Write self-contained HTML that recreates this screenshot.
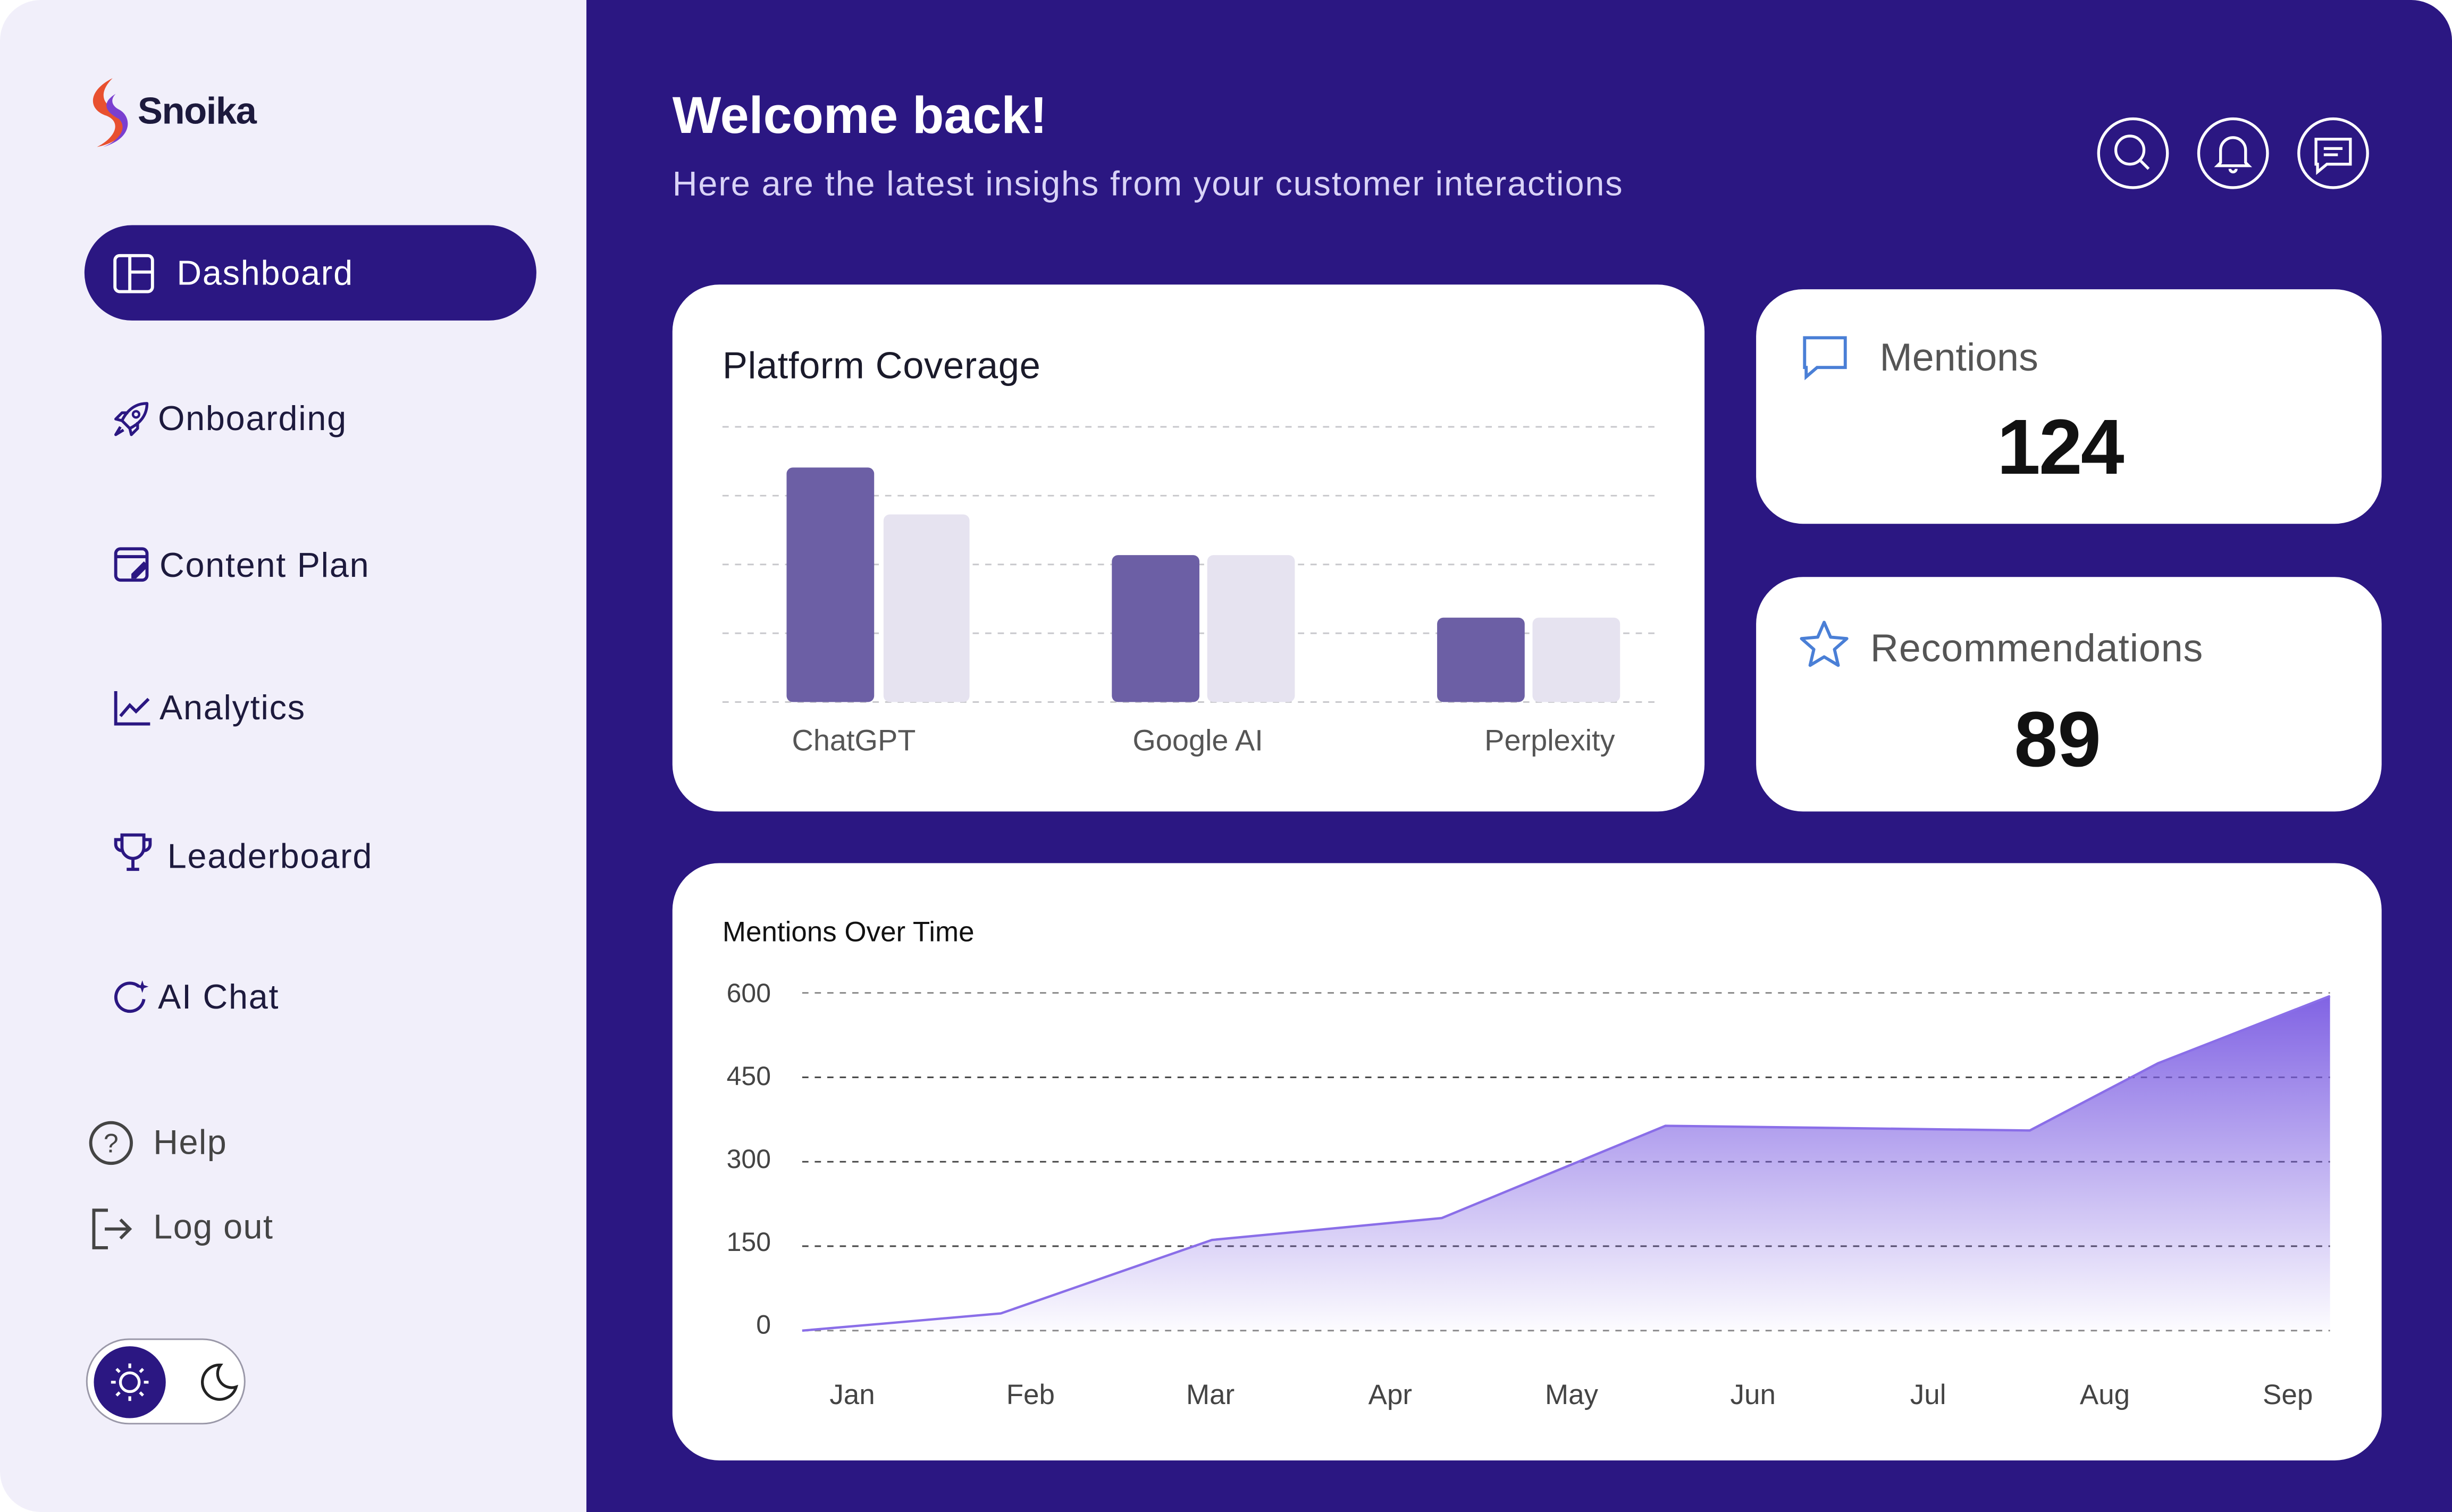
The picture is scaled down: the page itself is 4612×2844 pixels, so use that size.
<!DOCTYPE html>
<html><head><meta charset="utf-8"><style>
html,body{margin:0;padding:0;background:#fff;}
body{width:4612px;height:2844px;overflow:hidden;}
#s{width:1568px;height:967px;transform:scale(2.94133,2.94105);transform-origin:0 0;position:relative;font-family:"Liberation Sans",sans-serif;}
.side{position:absolute;left:0;top:0;width:376px;height:967px;background:#f1effa;border-radius:26px 0 0 26px;}
.main{position:absolute;left:375px;top:0;width:1193px;height:967px;background:#2b1782;border-radius:0 26px 0 0;}
.t{position:absolute;white-space:nowrap;}
.menu{font-size:22px;color:#1d1a3d;letter-spacing:0.6px;}
.card{position:absolute;background:#fff;border-radius:30px;}
</style></head><body><div id="s">
<div class="side"></div>
<div class="main"></div>
<svg class="t" style="left:52px;top:48px" width="36" height="50" viewBox="0 0 36 50"><path d="M20 2 C4 10 4 22 16 26 C26 30 22 40 10 46 C30 42 34 28 22 22 C12 18 12 10 20 2Z" fill="#e8502f"/><path d="M22 12 C12 18 16 24 24 28 C30 34 24 42 14 46 C34 40 32 26 24 22 C20 20 18 16 22 12Z" fill="#7a3fd0"/></svg>
<div class="t" style="left:88px;top:58px;font-size:24px;font-weight:bold;color:#1d1a3d;letter-spacing:-0.5px">Snoika</div>
<div style="position:absolute;left:54px;top:144px;width:289px;height:61px;background:#2b1782;border-radius:31px"></div>
<svg class="t" style="left:72px;top:162px" width="27" height="26"><rect x="1.5" y="1.5" width="24" height="23" rx="3" fill="none" stroke="#fff" stroke-width="2"/><line x1="11" y1="2" x2="11" y2="24" stroke="#fff" stroke-width="2"/><line x1="11" y1="12" x2="25" y2="12" stroke="#fff" stroke-width="2"/></svg>
<div class="t" style="left:113px;top:162px;font-size:22px;color:#fff;letter-spacing:0.6px">Dashboard</div>
<svg class="t" style="left:71px;top:255px" width="26" height="26"><path d="M23 3 C15 3 10 8 7 14 L12 19 C18 16 23 11 23 3Z M7 14 L3 13 L7 9 L11 9 M12 19 L13 23 L17 19 L17 15 M6 18 L3 23 L8 20" fill="none" stroke="#2b1782" stroke-width="1.8" stroke-linejoin="round"/><circle cx="16" cy="10" r="2" fill="none" stroke="#2b1782" stroke-width="1.5"/></svg>
<div class="t menu" style="left:101px;top:255px">Onboarding</div>
<svg class="t" style="left:72px;top:348px" width="26" height="26"><rect x="2" y="3" width="20" height="20" rx="3" fill="none" stroke="#2b1782" stroke-width="2"/><line x1="2" y1="8" x2="22" y2="8" stroke="#2b1782" stroke-width="2"/><path d="M12 19 L20 11 L23 14 L15 22 L12 22Z" fill="#2b1782"/></svg>
<div class="t menu" style="left:102px;top:349px">Content Plan</div>
<svg class="t" style="left:72px;top:440px" width="26" height="26"><path d="M2 2 V23 H24" fill="none" stroke="#2b1782" stroke-width="2"/><path d="M5 18 L11 11 L15 15 L23 7" fill="none" stroke="#2b1782" stroke-width="2"/></svg>
<div class="t menu" style="left:102px;top:440px">Analytics</div>
<svg class="t" style="left:72px;top:532px" width="26" height="28"><path d="M6 2 H20 V10 A7 7 0 0 1 6 10Z M9 24 H17 M13 17 V24 M6 5 H2 V8 A4 4 0 0 0 6 12 M20 5 H24 V8 A4 4 0 0 1 20 12" fill="none" stroke="#2b1782" stroke-width="2"/></svg>
<div class="t menu" style="left:107px;top:535px">Leaderboard</div>
<svg class="t" style="left:71px;top:625px" width="26" height="26"><path d="M18 6 A9 9 0 1 0 21 14" fill="none" stroke="#2b1782" stroke-width="2"/><path d="M20 2 L21 5 L24 6 L21 7 L20 10 L19 7 L16 6 L19 5Z" fill="#2b1782"/></svg>
<div class="t menu" style="left:101px;top:625px">AI Chat</div>
<svg class="t" style="left:56px;top:716px" width="30" height="30"><circle cx="15" cy="15" r="13" fill="none" stroke="#444" stroke-width="2"/><text x="15" y="21" font-size="17" text-anchor="middle" fill="#444" font-family="Liberation Sans">?</text></svg>
<div class="t" style="left:98px;top:718px;font-size:22px;color:#444;letter-spacing:0.5px">Help</div>
<svg class="t" style="left:57px;top:772px" width="30" height="28"><path d="M12 2 H3 V26 H12 M10 14 H26 M20 8 L26 14 L20 20" fill="none" stroke="#444" stroke-width="2"/></svg>
<div class="t" style="left:98px;top:772px;font-size:22px;color:#444;letter-spacing:0.5px">Log out</div>
<div style="position:absolute;left:55px;top:856px;width:100px;height:53px;border:1.5px solid #9a98a8;border-radius:28px;background:#fff"></div>
<div style="position:absolute;left:60px;top:861px;width:46px;height:46px;border-radius:50%;background:#2b1782"></div>
<svg class="t" style="left:70px;top:871px" width="26" height="26"><circle cx="13" cy="13" r="6" fill="none" stroke="#fff" stroke-width="1.8"/><g stroke="#fff" stroke-width="1.8"><line x1="13" y1="1" x2="13" y2="4"/><line x1="13" y1="22" x2="13" y2="25"/><line x1="1" y1="13" x2="4" y2="13"/><line x1="22" y1="13" x2="25" y2="13"/><line x1="4.5" y1="4.5" x2="6.5" y2="6.5"/><line x1="19.5" y1="19.5" x2="21.5" y2="21.5"/><line x1="4.5" y1="21.5" x2="6.5" y2="19.5"/><line x1="19.5" y1="6.5" x2="21.5" y2="4.5"/></g></svg>
<svg class="t" style="left:127px;top:871px" width="26" height="26"><path d="M14 2 A11 11 0 1 0 24 16 A9 9 0 0 1 14 2Z" fill="none" stroke="#222" stroke-width="1.8"/></svg>

<div class="t" style="left:430px;top:55px;font-size:33px;font-weight:bold;color:#fff">Welcome back!</div>
<div class="t" style="left:430px;top:105px;font-size:22px;letter-spacing:0.65px;color:#d9d3f7">Here are the latest insighs from your customer interactions</div>
<svg class="t" style="left:1340px;top:74px" width="180" height="48"><g fill="none" stroke="#fff" stroke-width="1.8"><circle cx="24" cy="24" r="22"/><circle cx="88" cy="24" r="22"/><circle cx="152" cy="24" r="22"/><circle cx="22" cy="22" r="9"/><line x1="29" y1="29" x2="34" y2="34"/><path d="M80 30 V22 A8 8 0 0 1 96 22 V30 L98 32 H78Z M86 34 A2 2 0 0 0 90 34"/><path d="M141 15 H163 V31 H148 L142 36 V31 H141Z M146 21 H158 M146 25 H155"/></g></svg>

<div class="card" style="left:430px;top:182px;width:660px;height:337px"></div>
<div class="t" style="left:462px;top:221px;font-size:24px;color:#1a1a2a;letter-spacing:0.2px">Platform Coverage</div>
<svg class="t" style="left:430px;top:182px" width="660" height="337"><g stroke="#c8c8cc" stroke-dasharray="4 4" stroke-width="1"><line x1="32" y1="91" x2="628" y2="91"/><line x1="32" y1="135" x2="628" y2="135"/><line x1="32" y1="179" x2="628" y2="179"/><line x1="32" y1="223" x2="628" y2="223"/><line x1="32" y1="267" x2="628" y2="267"/></g>
<g fill="#6c5fa5"><rect x="73" y="117" width="56" height="150" rx="4"/><rect x="281" y="173" width="56" height="94" rx="4"/><rect x="489" y="213" width="56" height="54" rx="4"/></g>
<g fill="#e6e3f0"><rect x="135" y="147" width="55" height="120" rx="4"/><rect x="342" y="173" width="56" height="94" rx="4"/><rect x="550" y="213" width="56" height="54" rx="4"/></g>
<g font-family="Liberation Sans" font-size="19" fill="#555" text-anchor="middle"><text x="116" y="298">ChatGPT</text><text x="336" y="298">Google AI</text><text x="561" y="298">Perplexity</text></g></svg>

<div class="card" style="left:1123px;top:185px;width:400px;height:150px"></div>
<svg class="t" style="left:1152px;top:214px" width="30" height="30"><path d="M2 2 H28 V21 H10 L3 27 V21 H2Z" fill="none" stroke="#4a7fd6" stroke-width="2"/></svg>
<div class="t" style="left:1202px;top:215px;font-size:25px;color:#555">Mentions</div>
<div class="t" style="left:1277px;top:257px;font-size:50px;font-weight:bold;color:#111;letter-spacing:-1px">124</div>
<div class="card" style="left:1123px;top:369px;width:400px;height:150px"></div>
<svg class="t" style="left:1150px;top:396px" width="33" height="32"><path d="M16.5 2 L20.6 11.5 L31 12.4 L23.1 19.3 L25.5 29.5 L16.5 24.1 L7.5 29.5 L9.9 19.3 L2 12.4 L12.4 11.5Z" fill="none" stroke="#4a7fd6" stroke-width="2" stroke-linejoin="round"/></svg>
<div class="t" style="left:1196px;top:401px;font-size:25px;color:#555;letter-spacing:0.3px">Recommendations</div>
<div class="t" style="left:1288px;top:444px;font-size:50px;font-weight:bold;color:#111">89</div>

<div class="card" style="left:430px;top:552px;width:1093px;height:382px"></div>
<div class="t" style="left:462px;top:586px;font-size:18px;color:#111">Mentions Over Time</div>
<svg class="t" style="left:0;top:0" width="1568" height="967"><defs><linearGradient id="g" x1="0" y1="0" x2="0" y2="1"><stop offset="0" stop-color="#7a5be2" stop-opacity="0.95"/><stop offset="1" stop-color="#7a5be2" stop-opacity="0.02"/></linearGradient></defs>
<g stroke="#888" stroke-dasharray="4 4" stroke-width="1"><line x1="513" y1="635" x2="1490" y2="635"/><line x1="513" y1="689" x2="1490" y2="689" stroke="#444"/><line x1="513" y1="743" x2="1490" y2="743" stroke="#444"/><line x1="513" y1="797" x2="1490" y2="797" stroke="#444"/><line x1="513" y1="851" x2="1490" y2="851"/></g>
<path d="M513 851 L640 840 L775 793 L922 779 L1065 720 L1298 723 L1380 680 L1490 637 L1490 851Z" fill="url(#g)"/>
<path d="M513 851 L640 840 L775 793 L922 779 L1065 720 L1298 723 L1380 680 L1490 637" fill="none" stroke="#8a6ee8" stroke-width="1.5"/>
<g font-family="Liberation Sans" font-size="17" fill="#444" text-anchor="end"><text x="493" y="641">600</text><text x="493" y="694">450</text><text x="493" y="747">300</text><text x="493" y="800">150</text><text x="493" y="853">0</text></g>
<g font-family="Liberation Sans" font-size="18" fill="#444" text-anchor="middle"><text x="545" y="898">Jan</text><text x="659" y="898">Feb</text><text x="774" y="898">Mar</text><text x="889" y="898">Apr</text><text x="1005" y="898">May</text><text x="1121" y="898">Jun</text><text x="1233" y="898">Jul</text><text x="1346" y="898">Aug</text><text x="1463" y="898">Sep</text></g></svg>
</div></body></html>
